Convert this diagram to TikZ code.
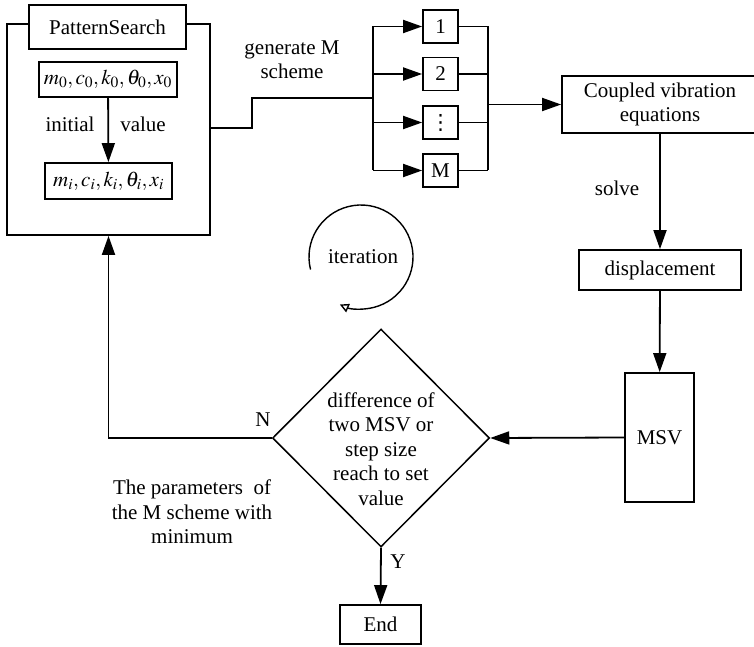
\documentclass[tikz,border=0pt]{standalone}
\usepackage{mathptmx}
\usepackage{fontspec}
\setmainfont{Liberation Serif}
\newfontfamily\dvsans{DejaVu Sans}
\usetikzlibrary{arrows.meta,shapes.geometric}
\begin{document}
\begin{tikzpicture}[x=1pt,y=-1pt,
  font=\fontsize{21}{24.5}\selectfont,
  box/.style={draw,line width=1.8pt,fill=white,inner sep=1pt,align=center},
  conn/.style={line width=1.8pt},
  arr/.style={line width=1.8pt,-{Triangle[length=19pt,width=13pt]}},
  lbl/.style={inner sep=0pt,align=center}]
\useasboundingbox (0,0) rectangle (754,647);
% outer PatternSearch container
\node[box,minimum width=203pt,minimum height=211pt] (outer) at (108.5,129.5) {};
\node[box,minimum width=157pt,minimum height=44pt] (ps) at (107.5,27) {PatternSearch};
\node[box,minimum width=138pt,minimum height=35pt] (m0) at (108,79.5) {$m_0,c_0,k_0,\theta_0,x_0$};
\node[box,minimum width=127pt,minimum height=36pt] (mi) at (108.5,181) {$m_i,c_i,k_i,\theta_i,x_i$};
\draw[arr] (m0) -- (mi);
\node[lbl] (lini) at (70,124) {initial};
\node[lbl] (lval) at (143,124) {value};
% schemes
\node[box,minimum width=35pt,minimum height=33pt] (b1) at (440.5,26.5) {1};
\node[box,minimum width=35pt,minimum height=33pt] (b2) at (440.5,74) {2};
\node[box,minimum width=35pt,minimum height=33pt,font=\dvsans\fontsize{21}{22}\selectfont] (b3) at (440.5,122.5) {⋮};
\node[box,minimum width=35pt,minimum height=33pt] (bM) at (440.5,170.5) {M};
\coordinate (s1) at (252,128);
\coordinate (s2) at (252,98);
\coordinate (lb) at (373,98);
\coordinate (lbt) at (373,26.5);
\coordinate (lbb) at (373,170.5);
\coordinate (rbt) at (488,26.5);
\coordinate (rbb) at (488,170.5);
\coordinate (rb) at (488,104.5);
\draw[conn] (outer.east |- s1) -- (s1) -- (s2) -- (lb);
\draw[conn] (lbt) -- (lbb);
\draw[conn] (rbt) -- (rbb);
\foreach \b in {b1,b2,b3,bM}{
  \draw[arr] (lbt |- \b.west) -- (\b.west);
  \draw[conn] (\b.east) -- (rbt |- \b.east);
}
\node[lbl] (gen) at (292,59.5) {generate M\\scheme};
% right column
\node[box,minimum width=196pt,minimum height=57pt] (cve) at (660,104.5) {Coupled vibration\\equations};
\draw[arr] (rb) -- (cve.west);
\node[box,minimum width=162pt,minimum height=40pt] (disp) at (660,270) {displacement};
\draw[arr] (cve) -- (disp);
\node[lbl] (solve) at (617,188) {solve};
\node[box,minimum width=69pt,minimum height=129pt] (msv) at (659.5,437.5) {MSV};
\draw[arr] (disp) -- (msv);
% decision
\node[draw,diamond,line width=1.5pt,inner sep=0pt,minimum width=217pt,minimum height=218pt] (dec) at (381,438) {};
\node[lbl] (dect) at (381,449) {difference of\\two MSV or\\step size\\reach to set\\value};
\draw[arr] (msv.west) -- (dec.east);
\draw[arr] (dec.west) -| (outer.south);
\node[lbl] (N) at (263,420) {N};
\node[box,minimum width=81pt,minimum height=39pt] (end) at (380.5,624.5) {End};
\draw[arr] (dec.south) -- (end.north);
\node[lbl] (Y) at (398,562) {Y};
\node[lbl] (par) at (192,512) {The parameters\ \ of\\the M scheme with\\minimum};
% iteration
\node[lbl] (it) at (363,257) {iteration};
\coordinate (ic) at (361,257);
\draw[line width=1.4pt,-{Triangle[open,length=9pt,width=9pt]}] ([shift={(166:52)}]ic) arc[start angle=166,end angle=474,radius=52];
\end{tikzpicture}
\end{document}
